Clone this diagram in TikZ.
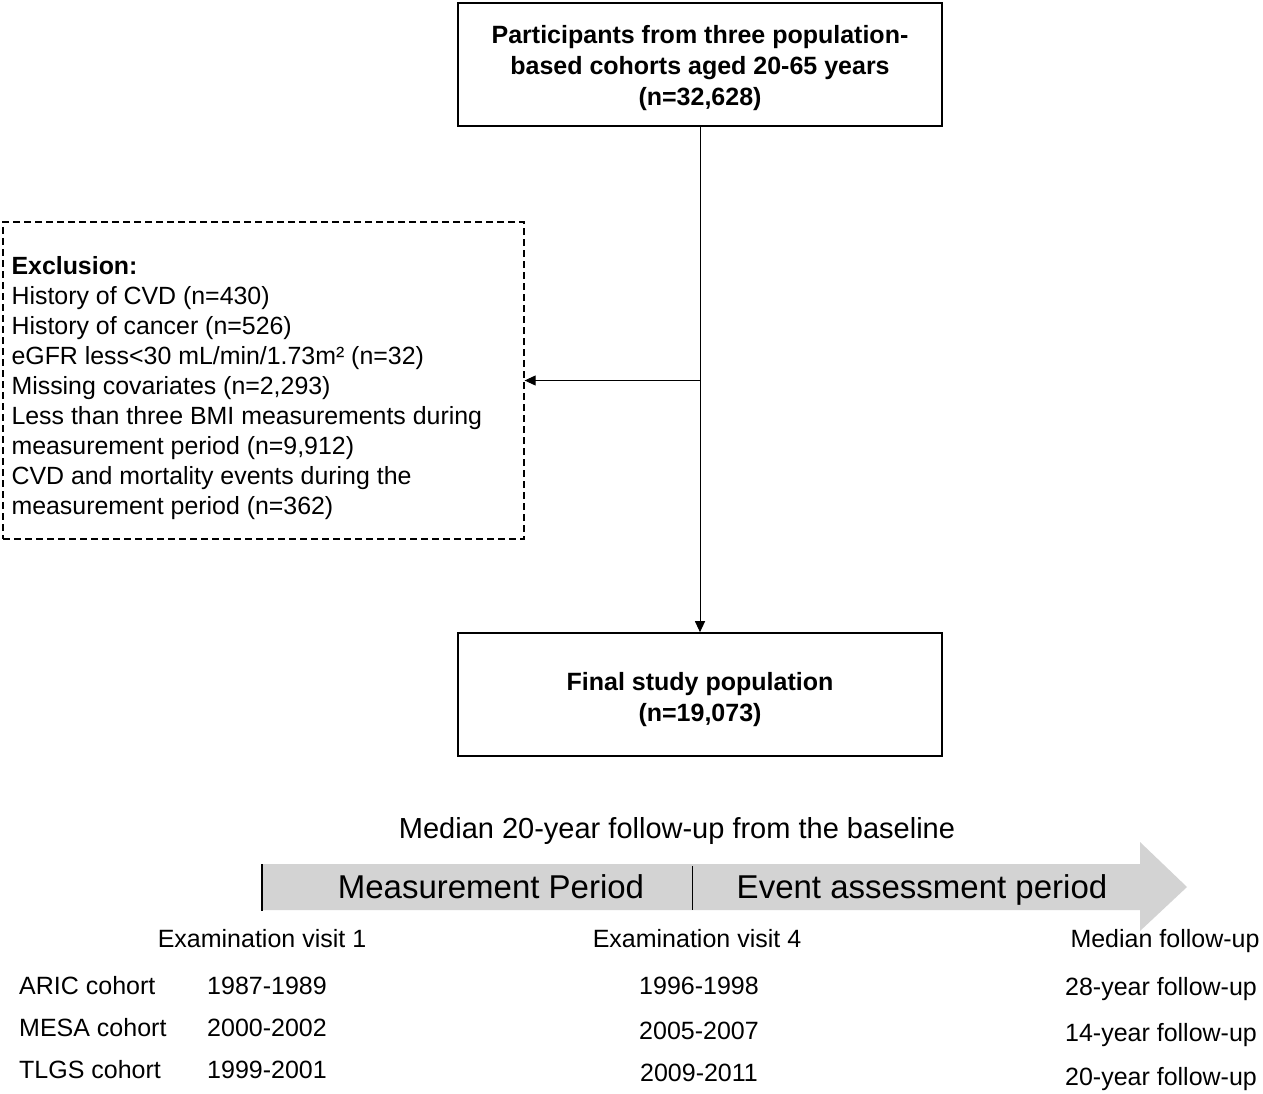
\documentclass[tikz,border=0pt]{standalone}
\usepackage{fontspec}
\setmainfont{Liberation Sans}
\usetikzlibrary{arrows.meta}

\definecolor{periodgray}{RGB}{211,211,211}

\tikzset{
  flowbox/.style={draw, line width=1.6pt, minimum width=484pt, minimum height=123pt},
  boxtext/.style={align=center, inner sep=0pt, font=\fontsize{25}{31}\selectfont\bfseries},
  exclbox/.style={draw, dash pattern=on 7pt off 4pt, line width=1.3pt, minimum width=521pt, minimum height=317pt},
  excltext/.style={align=left, inner sep=0pt, font=\fontsize{24.9}{30}\selectfont},
  flowarrow/.style={-{Triangle[length=11pt,width=10pt]}, line width=1pt},
  plain/.style={font=\fontsize{25}{30}\selectfont, inner sep=0pt, text height=20pt, text depth=3pt},
  period/.style={font=\fontsize{33}{38}\selectfont, inner sep=0pt, text height=27pt, text depth=4pt}
}

\begin{document}
\begin{tikzpicture}[x=1pt, y=-1pt]
\useasboundingbox (0,0) rectangle (1263,1094);

\node [flowbox] (participants) at (700,64.5) {};
\node [boxtext] (participants-text) at ([yshift=-3.5pt]participants.center) {Participants from three population-\\based cohorts aged 20-65 years\\(n=32,628)};
\node [flowbox] (final) at (700,694.5) {};
\node [boxtext] (final-text) at ([yshift=-5pt]final.center) {Final study population\\(n=19,073)};
\node [exclbox] (exclusion) at (263.5,380.5) {};
\node [excltext, anchor=west] (exclusion-text) at ([xshift=9pt,yshift=-8pt]exclusion.west) {\textbf{Exclusion:}\\
History of CVD (n=430)\\
History of cancer (n=526)\\
eGFR less<30 mL/min/1.73m² (n=32)\\
Missing covariates (n=2,293)\\
Less than three BMI measurements during\\
measurement period (n=9,912)\\
CVD and mortality events during the\\
measurement period (n=362)};

\draw [flowarrow] (participants.south) -- (final.north);
\draw [flowarrow] (participants.south |- exclusion.east) -- (exclusion.east);

% timeline
\node [plain, font=\fontsize{29}{34}\selectfont, text height=23pt, text depth=2pt] (median) at (677,828) {Median 20-year follow-up from the baseline};
\fill [periodgray] (263,864) -- (1140,864) -- (1140,842) -- (1187,887) -- (1140,931) -- (1140,910) -- (263,910) -- cycle;
\draw [line width=1.5pt] (262,864) -- (262,911);
\draw [line width=0.8pt] (692,866) -- (692,910);
\node [period] (measurement) at (491,887) {Measurement Period};
\node [period] (event) at (922,887) {Event assessment period};

\node [plain] (visit1) at (262,939) {Examination visit 1};
\node [plain] (visit4) at (697,939) {Examination visit 4};
\node [plain] (followup) at (1165,939) {Median follow-up};

\foreach \y/\cohort/\first/\yy/\fourth/\yf/\years in {986/ARIC/1987-1989/986/1996-1998/987/28, 1028/MESA/2000-2002/1031/2005-2007/1033/14, 1070/TLGS/1999-2001/1073/2009-2011/1077/20}
{
  \node [plain, anchor=west] (\cohort-name) at (19,\y) {\cohort{} cohort};
  \node [plain, anchor=west] (\cohort-first) at (207,\y) {\first};
  \node [plain] (\cohort-fourth) at (699,\yy) {\fourth};
  \node [plain] (\cohort-follow) at (1161,\yf) {\years-year follow-up};
}
\end{tikzpicture}
\end{document}
